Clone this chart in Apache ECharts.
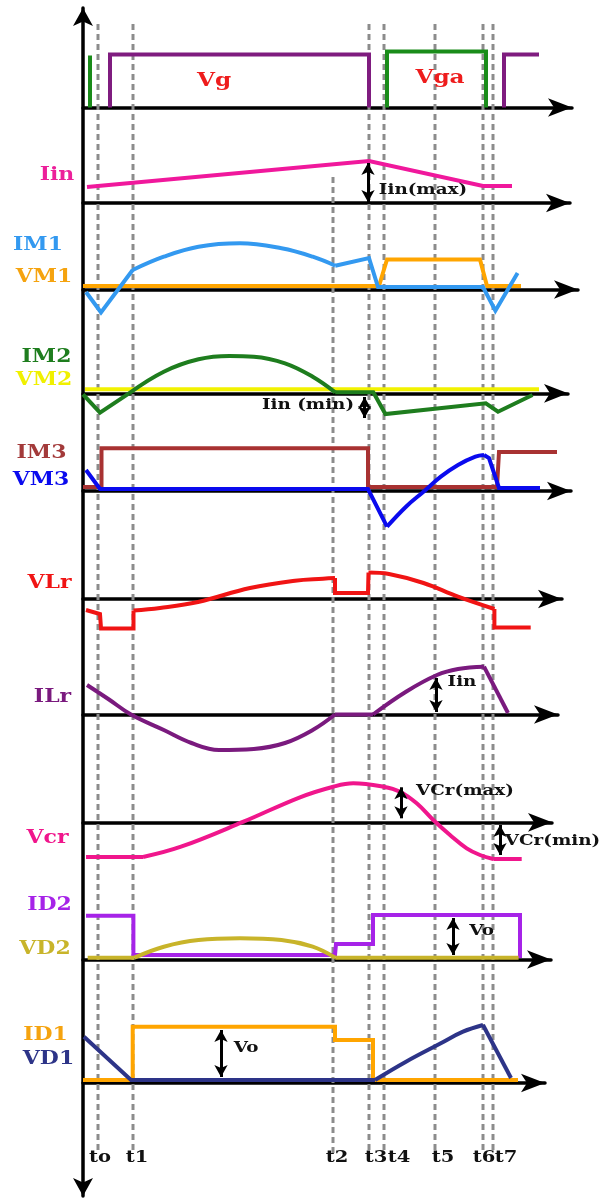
<!DOCTYPE html>
<html><head><meta charset="utf-8">
<script src="https://cdn.jsdelivr.net/npm/echarts@6/dist/echarts.min.js"></script>
<style>html,body{margin:0;padding:0;background:#fff}#c{width:612px;height:1198px}</style>
</head><body><div id="c"></div>
<script>
// ---- time markers (time units measured from the origin) ----
const tNames = ['to', 't1', 't2', 't3', 't4', 't5', 't6', 't7'];
const tMarks = [15, 50, 250, 286, 301, 352, 400, 410];

// ---- waveforms: [time, value] ----
// gate signals
const VgaPre = [[7, 52], [7, 0]];
const Vg1 = [[27, 0], [27, 53], [286, 53], [286, 0]];
const Vg2 = [[421, 0], [421, 53], [456, 53]];
const Vga = [[304, 0], [304, 56], [403, 56], [403, 0]];
// input current
const Iin = [[4, 16], [286, 42], [400, 17], [429, 17]];
// switch M1
const VM1 = [[0, 3.5], [296, 3.5], [304, 30], [397, 30], [404, 3.5], [438, 3.5]];
const IM1a = [[3, -2.5], [18, -23], [49.7, 19.5]];
const IM1arc = [[49.7, 19.5], [80.8, 32.8], [115.5, 42.8], [157, 46.2], [198.5, 41.2], [229.7, 32.8], [252.2, 23.8]];
const IM1b = [[252.2, 23.8], [286, 31.5], [295, 2.5], [400, 2.5], [412.4, -21.2], [434.6, 16.5]];
// switch M2
const VM2 = [[2, 4], [456, 4]];
const IM2a = [[0, -1], [17, -19.4], [46, 0]];
const IM2arc = [[46, 0], [80.8, 21.6], [115.5, 34], [146.6, 37.3], [170.8, 36.6], [202, 30], [229.7, 16.6], [252.2, 1]];
const IM2b = [[252.2, 1], [290.3, 1], [302.4, -20.7], [402.8, -10], [415, -18.4], [449.5, -1.7]];
// switch M3
const IM3 = [[0, 4], [18.5, 4], [18.5, 42.7], [285, 42.7], [285, 4], [414, 4], [416, 39], [474, 39]];
const VM3a = [[3, 21], [17, 2], [285, 2], [304, -35.7]];
const VM3c = [[304, -35.7], [323, -15.7], [340.5, -0.7], [357.8, 14.3], [375, 26], [392.4, 34.3], [401, 36]];
const VM3b = [[401, 36], [406, 33], [416, 3], [457, 3]];
// resonant inductor voltage
const VLrA = [[3, -11], [17, -15], [18, -29.5], [50.5, -29.5], [50.5, -11.5]];
const VLrC1 = [[50.5, -11.5], [77, -9], [115, -3], [167, 11], [212, 18.3], [240, 20.3], [252, 21]];
const VLrB = [[252, 21], [252, 6], [285, 6], [285.5, 26.5]];
const VLrC2 = [[285.5, 26.5], [306, 25], [340.5, 16], [375, 2.3], [411.4, -10]];
const VLrD = [[411.4, -10], [411.4, -28.5], [447.7, -28.5]];
// resonant inductor current
const ILrC1 = [[4, 29.5], [26, 15], [48, 0], [80.8, -15.5], [108.5, -28.5], [136, -35.5], [170.8, -34.5], [202, -28.5], [229.7, -15.5], [252, 0]];
const ILrA = [[252, 0], [290, 0]];
const ILrC2 = [[290, 0], [323, 22.8], [354, 39.5], [375, 45.5], [401, 47.8]];
const ILrB = [[401, 47.8], [425, 1.5]];
// resonant capacitor voltage
const VcrA = [[3, -34.7], [60, -34.7]];
const VcrC = [[60, -34.7], [98, -24.4], [160.5, 0.6], [217, 25], [250.3, 35.6], [270.3, 39], [300.3, 35.6], [317, 30.6], [333.7, 19], [350.3, 2.3], [367, -12.7], [383.7, -26], [397, -32.7], [410.3, -36.7]];
const VcrB = [[410.3, -36.7], [438.7, -36.7]];
// diode D2
const ID2 = [[3, 43.8], [50.4, 43.8], [50.4, 4.5], [252, 4.5], [253, 15.5], [290, 15.5], [290, 44.5], [437, 44.5], [437, 1.5]];
const VD2a = [[4.7, 1.8], [51.4, 1.8]];
const VD2arc = [[51.4, 1.8], [80.8, 12.8], [115.5, 19.5], [157, 21.2], [198.5, 19.5], [229.7, 12.8], [252.2, 1.8]];
const VD2b = [[252.2, 1.8], [435.6, 1.8]];
// diode D1
const ID1 = [[0, 3], [49.7, 3], [49.7, 56.3], [252, 56.3], [252, 43], [290, 43], [290, 3], [435, 3]];
const VD1a = [[1, 46.3], [48, 3], [292, 3]];
const VD1c = [[292, 3], [323, 21.3], [357.8, 39.7], [380, 51.3], [400, 58]];
const VD1b = [[400, 58], [428, 5]];
// annotation arrows: [time, v1, v2]
const arrIinMax = [285, 40, 1];
const arrIinMin = [281.6, -3.7, -24.7];
const arrIinL = [353, 36.5, 2.5];
const arrVcrMax = [318, 35, 4];
const arrVcrMin = [417, -2.7, -32.7];
const arrVo2 = [370, 41.5, 4.5];
const arrVo1 = [138, 53, 6];

// ---- layout ----
const AX = 83;
const panels = [
  {base: 107.5, tip: 572}, {base: 203, tip: 570}, {base: 289.5, tip: 578},
  {base: 393.3, tip: 568}, {base: 491, tip: 571}, {base: 599, tip: 562},
  {base: 714.5, tip: 558}, {base: 822.3, tip: 552}, {base: 959.5, tip: 551},
  {base: 1083, tip: 545}
];
const grids = [], xAxes = [], yAxes = [], series = [];
panels.forEach((p, i) => {
  const W = p.tip - AX;
  grids.push({left: AX, top: p.base - 100, width: W, height: 200});
  xAxes.push({gridIndex: i, type: 'value', min: 0, max: W,
    axisLine: {show: true, onZero: true, symbol: ['none', 'arrow'], symbolSize: [14, 24],
      lineStyle: {color: '#000', width: 3.5}},
    axisTick: {show: false}, axisLabel: {show: false}, splitLine: {show: false}});
  yAxes.push({gridIndex: i, type: 'value', min: -100, max: 100, show: false});
});
// frame grid: main vertical axis & dashed time markers
const FI = panels.length;
grids.push({left: AX, top: 8, width: 500, height: 1188});
xAxes.push({gridIndex: FI, type: 'value', min: 0, max: 500, show: false});
yAxes.push({gridIndex: FI, type: 'value', inverse: true, min: 8, max: 1196,
  axisLine: {show: true, onZero: false, symbol: ['arrow', 'arrow'], symbolSize: [15, 18],
    lineStyle: {color: '#000', width: 3.5}},
  axisTick: {show: false}, axisLabel: {show: false}, splitLine: {show: false}});

tMarks.forEach((t, i) => {
  const top = tNames[i] === 't2' ? 177 : 24;
  series.push({type: 'line', xAxisIndex: FI, yAxisIndex: FI, data: [[t, top], [t, 1153]],
    symbol: 'none', silent: true, z: 1,
    lineStyle: {color: '#8c8c8c', width: 3, type: [6, 4]}});
});

function trace(p, data, color, smooth) {
  series.push({type: 'line', xAxisIndex: p, yAxisIndex: p, data: data, symbol: 'none',
    smooth: smooth ? 0.4 : false, silent: true, z: 3,
    lineStyle: {color: color, width: 4, cap: 'butt', join: 'miter'}});
}
function arrow(p, a) {
  series.push({type: 'line', xAxisIndex: p, yAxisIndex: p, data: [], silent: true, z: 4,
    markLine: {silent: true, symbol: ['arrow', 'arrow'], symbolSize: [10, 12], label: {show: false},
      lineStyle: {color: '#000', width: 3, type: 'solid'},
      emphasis: {disabled: true},
      data: [[{coord: [a[0], a[1]]}, {coord: [a[0], a[2]]}]]}});
}

const C = {
  vg: '#7f1c7f', green: '#1a8c1a', pink: '#f0189c', blue1: '#3399f0', orange: '#ffa500',
  green2: '#1e7d1e', yellow: '#f2f200', brown: '#a83232', blue3: '#0a0aee', red: '#f01414',
  ilr: '#7a1a7e', vcr: '#f0168c', id2: '#a623e8', vd2: '#c8b42a', vd1: '#2d3488'
};
trace(0, VgaPre, C.green); trace(0, Vg1, C.vg); trace(0, Vg2, C.vg); trace(0, Vga, C.green);
trace(1, Iin, C.pink);
trace(2, VM1, C.orange); trace(2, IM1a, C.blue1); trace(2, IM1arc, C.blue1, true); trace(2, IM1b, C.blue1);
trace(3, VM2, C.yellow); trace(3, IM2a, C.green2); trace(3, IM2arc, C.green2, true); trace(3, IM2b, C.green2);
trace(4, IM3, C.brown); trace(4, VM3a, C.blue3); trace(4, VM3c, C.blue3, true); trace(4, VM3b, C.blue3);
trace(5, VLrA, C.red); trace(5, VLrC1, C.red, true); trace(5, VLrB, C.red); trace(5, VLrC2, C.red, true); trace(5, VLrD, C.red);
trace(6, ILrC1, C.ilr, true); trace(6, ILrA, C.ilr); trace(6, ILrC2, C.ilr, true); trace(6, ILrB, C.ilr);
trace(7, VcrA, C.vcr); trace(7, VcrC, C.vcr, true); trace(7, VcrB, C.vcr);
trace(8, ID2, C.id2); trace(8, VD2a, C.vd2); trace(8, VD2arc, C.vd2, true); trace(8, VD2b, C.vd2);
trace(9, ID1, C.orange); trace(9, VD1a, C.vd1); trace(9, VD1c, C.vd1, true); trace(9, VD1b, C.vd1);

arrow(1, arrIinMax); arrow(3, arrIinMin); arrow(6, arrIinL); arrow(7, arrVcrMax);
arrow(7, arrVcrMin); arrow(8, arrVo2); arrow(9, arrVo1);

// ---- text ----
const FF = '"DejaVu Serif", serif';
const SX = 1.22;
const texts = [
  ['Vg', 214, 81.5, '#ee1c1c', 19], ['Vga', 440, 78, '#ee1c1c', 19],
  ['Iin', 57, 175, '#ec1f9a', 18], ['IM1', 38, 245, '#3399f0', 18], ['VM1', 44, 277, '#f5a30f', 18],
  ['IM2', 46.5, 357, '#1e7d1e', 18], ['VM2', 44, 380, '#f0f000', 18],
  ['IM3', 41.5, 453, '#a33a3a', 18], ['VM3', 41, 480, '#0a0aee', 18],
  ['VLr', 49.5, 583.5, '#f01414', 18], ['ILr', 52.5, 697, '#7a1a7e', 18],
  ['Vcr', 47.5, 838.5, '#f0168c', 18], ['ID2', 49.5, 905, '#a623e8', 18],
  ['VD2', 45, 949, '#c8b42a', 18], ['ID1', 45.5, 1035, '#f5a30f', 18], ['VD1', 48.5, 1059, '#2d3488', 18],
  ['Iin(max)', 423, 190, '#111', 15], ['Iin (min)', 308, 405, '#111', 15], ['Iin', 462, 682.5, '#111', 15],
  ['VCr(max)', 465, 791, '#111', 15], ['VCr(min)', 552.5, 841.5, '#111', 15],
  ['Vo', 481.5, 931, '#111', 15], ['Vo', 246, 1048, '#111', 15]
];
const tLabelX = [100, 137, 337, 376, 399, 443, 484, 506];
tNames.forEach((n, i) => texts.push([n, tLabelX[i], 1158, '#111', 16]));
const graphic = texts.map(t => ({type: 'text', x: t[1], y: t[2], scaleX: SX, z: 10, silent: true,
  style: {text: t[0], fill: t[3], font: 'bold ' + t[4] + 'px ' + FF, align: 'center', verticalAlign: 'middle'}}));

const chart = echarts.init(document.getElementById('c'), null, {renderer: 'canvas'});
chart.setOption({animation: false, backgroundColor: '#fff', grid: grids, xAxis: xAxes, yAxis: yAxes,
  series: series, graphic: graphic});
</script></body></html>
